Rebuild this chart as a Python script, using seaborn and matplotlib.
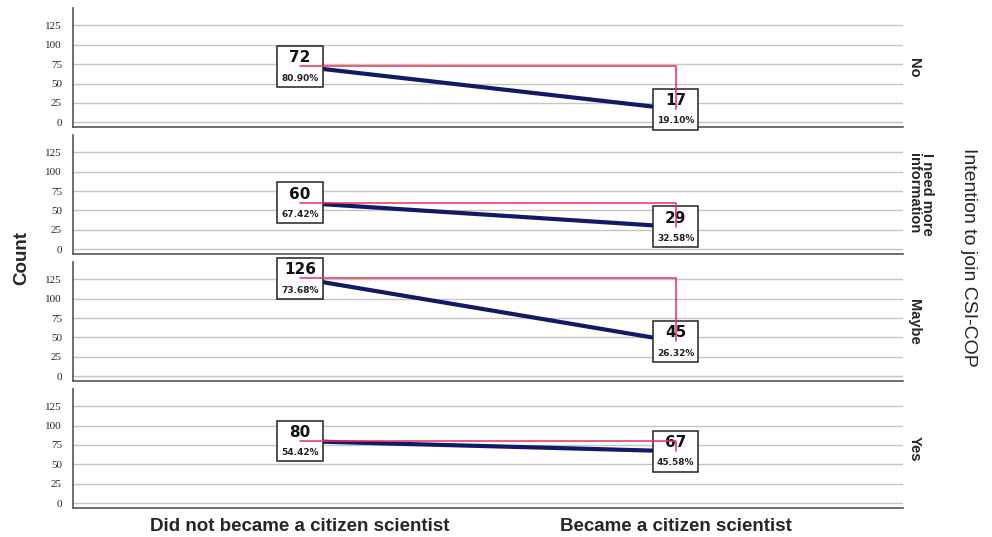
import matplotlib
matplotlib.use("Agg")
import matplotlib.pyplot as plt
import seaborn as sns
import pandas as pd
from matplotlib.offsetbox import TextArea, VPacker, AnnotationBbox

# data
groups = ["Did not became a citizen scientist", "Became a citizen scientist"]
rows = ["No", "I need more\ninformation", "Maybe", "Yes"]
counts_not = [72, 60, 126, 80]
counts_became = [17, 29, 45, 67]
pct_not = ["80.90%", "67.42%", "73.68%", "54.42%"]
pct_became = ["19.10%", "32.58%", "26.32%", "45.58%"]
yticks = [0, 25, 50, 75, 100, 125]

sns.set_style("white")
plt.rcParams['font.family'] = ['Liberation Sans', 'DejaVu Sans']

fig, axes = plt.subplots(4, 1, figsize=(9.92, 5.37), dpi=100, sharex=True)
fig.subplots_adjust(left=0.0736, right=0.910, top=0.985, bottom=0.054, hspace=0.067)

for i, ax in enumerate(axes):
    df = pd.DataFrame({"x": [0, 1], "Count": [counts_not[i], counts_became[i]]})
    v0, v1 = counts_not[i], counts_became[i]

    # grid lines
    for t in yticks:
        ax.axhline(t, color="#c4c4c4", lw=1.0, zorder=0)

    # blue line (behind boxes)
    sns.lineplot(data=df, x="x", y="Count", ax=ax, color="#101a66", lw=3, zorder=2)

    # red step line (on top)
    ax.plot([0, 1, 1], [v0, v0, v1], color="#e8315a", lw=1.1, zorder=6)

    # label boxes
    for xi, val, pct in [(0, v0, pct_not[i]), (1, v1, pct_became[i])]:
        t1 = TextArea(str(val), textprops=dict(fontsize=11, fontweight="bold",
                                               family="DejaVu Sans", color="#111111"))
        t2 = TextArea(pct, textprops=dict(fontsize=6.5, fontweight="bold",
                                          family="DejaVu Sans", color="#222222"))
        pack = VPacker(children=[t1, t2], align="center", pad=0, sep=6)
        ab = AnnotationBbox(pack, (xi, val), frameon=True, pad=0.3, box_alignment=(0.5, 0.5),
                            bboxprops=dict(edgecolor="#222222", facecolor="white", lw=1.1))
        ab.set_zorder(4)
        ax.add_artist(ab)

    ax.set_xlim(-0.605, 1.605)
    ax.set_ylim(-6, 147)
    ax.set_yticks(yticks)
    ax.set_yticklabels([str(t) for t in yticks], fontsize=8, family="Liberation Serif")
    ax.tick_params(axis="y", length=0, pad=8)
    ax.set_ylabel("")
    ax.set_xlabel("")
    for s in ["top", "right"]:
        ax.spines[s].set_visible(False)
    ax.spines["left"].set_color("#555555")
    ax.spines["bottom"].set_color("#555555")
    ax.spines["left"].set_linewidth(1.2)
    ax.spines["bottom"].set_linewidth(1.2)

    # row label on right
    ax.text(1.0055, 0.5, rows[i], transform=ax.transAxes, rotation=-90, ha="left",
            va="center", fontsize=10.5, fontweight="bold", linespacing=0.9)

axes[-1].set_xticks([0, 1])
axes[-1].set_xticklabels(groups, fontsize=13.5, fontweight="bold")
axes[-1].tick_params(axis="x", length=0, pad=7)

fig.text(0.022, 0.52, "Count", rotation=90, ha="center", va="center",
         fontsize=13.5, fontweight="bold")
fig.text(0.976, 0.52, "Intention to join CSI-COP", rotation=-90, ha="center",
         va="center", fontsize=14)

fig.savefig("out.png", dpi=100)
